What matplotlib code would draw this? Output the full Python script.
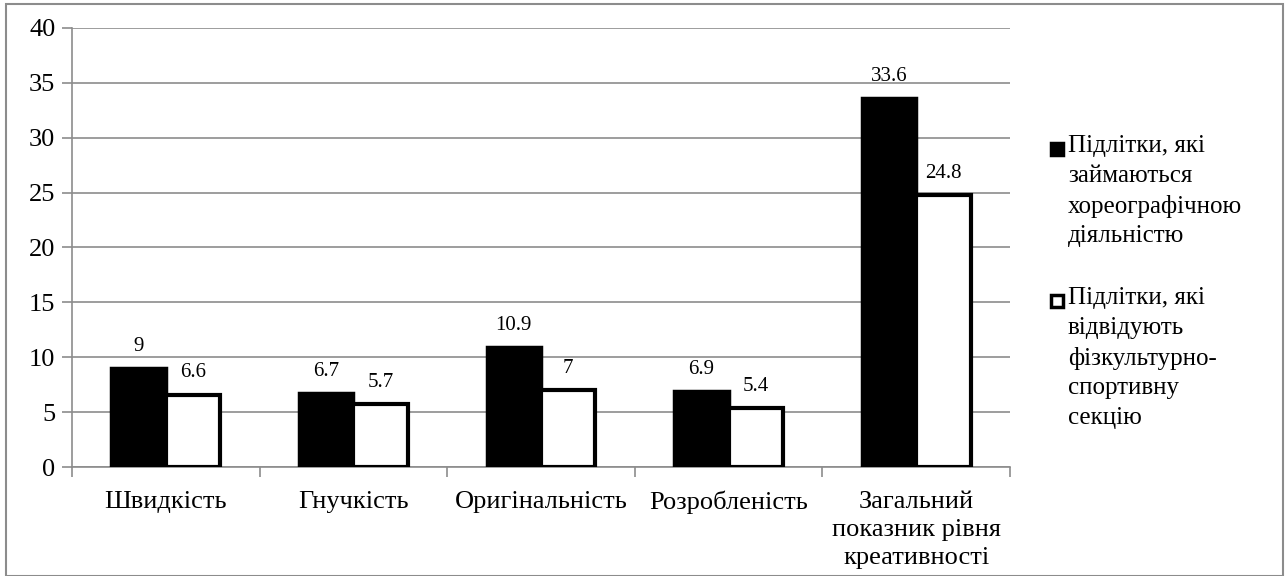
import matplotlib
matplotlib.use("Agg")
import matplotlib.pyplot as plt
import numpy as np
from matplotlib.patches import Rectangle

plt.rcParams['font.family'] = ['Liberation Serif', 'DejaVu Serif']

categories = ["Швидкість", "Гнучкість", "Оригінальність", "Розробленість",
              "Загальний\nпоказник рівня\nкреативності"]
dance = [9, 6.7, 10.9, 6.9, 33.6]
sport = [6.6, 5.7, 7, 5.4, 24.8]
series_names = ["Підлітки, які\nзаймаються\nхореографічною\nдіяльністю",
                "Підлітки, які\nвідвідують\nфізкультурно-\nспортивну\nсекцію"]

W, H = 1288, 576
fig = plt.figure(figsize=(W/100, H/100), dpi=100)
ax = fig.add_axes([72/W, 1-467/H, (1010-72)/W, (467-28)/H])

x = np.arange(len(categories))
w = 0.29
ax.bar(x - w/2, dance, w, color='black', edgecolor='black', linewidth=2.5, zorder=3)
ax.bar(x + w/2, sport, w, color='white', edgecolor='black', linewidth=3, zorder=3)

for xi, v in zip(x - w/2, dance):
    ax.text(xi, v + 1.1, f"{v:g}", ha='center', va='bottom', fontsize=15)
for xi, v in zip(x + w/2, sport):
    ax.text(xi, v + 1.1, f"{v:g}", ha='center', va='bottom', fontsize=15)

ax.set_xlim(-0.5, len(categories) - 0.5)
ax.set_ylim(0, 40)
ax.set_yticks(range(0, 41, 5))
ax.yaxis.grid(True, color='#8c8c8c', linewidth=1.2, zorder=0)
ax.set_axisbelow(True)

ax.set_xticks(x)
ax.set_xticklabels(categories, fontsize=19, linespacing=1.35)
ax.set_xticks(np.arange(-0.5, len(categories)), minor=True)
ax.tick_params(axis='x', which='major', length=0, pad=17)
ax.tick_params(axis='x', which='minor', length=7, color='#8c8c8c', width=1.2)
ax.tick_params(axis='y', labelsize=19, length=7, color='#8c8c8c', width=1.2, pad=5)

for s in ['top', 'right']:
    ax.spines[s].set_visible(False)
for s in ['left', 'bottom']:
    ax.spines[s].set_color('#8c8c8c')
    ax.spines[s].set_linewidth(1.2)

# legend drawn by hand so the square sits on the first text line
legend_tops = [135, 287]
for (name, top, face) in zip(series_names, legend_tops, ['black', 'white']):
    fig.patches.append(Rectangle((1051/W, 1-(top+20)/H), 12/W, 12/H,
                                 transform=fig.transFigure, facecolor=face,
                                 edgecolor='black', linewidth=2.5))
    fig.text(1068/W, 1-top/H, name, ha='left', va='top', fontsize=18,
             linespacing=1.45)

fig.patches.append(Rectangle((6/W, 0), 1277/W, 572/H, transform=fig.transFigure,
                             fill=False, edgecolor='#8c8c8c', linewidth=1.5))

fig.savefig("out.png", dpi=100)
